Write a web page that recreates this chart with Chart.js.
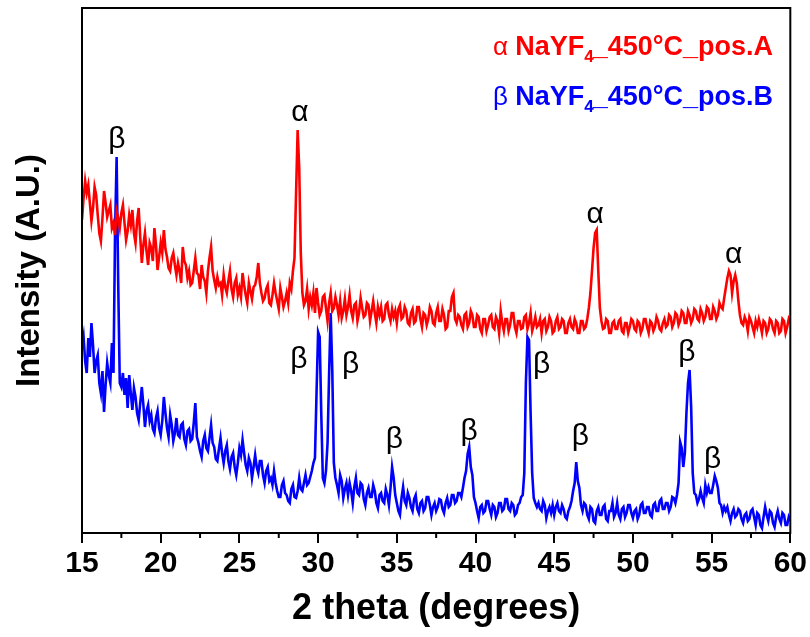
<!DOCTYPE html>
<html><head><meta charset="utf-8">
<script src="https://cdn.jsdelivr.net/npm/chart.js@4.4.1/dist/chart.umd.min.js"></script>
<style>html,body{margin:0;padding:0;background:#fff}#wrap{width:810px;height:637px;position:relative}</style>
</head><body><div id="wrap"><canvas id="c"></canvas></div>
<script>
// 2-theta scan grid (degrees)
const scanStart = 15.0;
const scanStep = 0.1;

// Intensity (a.u.) of pos.A (alpha phase), one row per degree (x.0 .. x.9), 15.0 .. 60.0
const posA = [
 313,335,352,340,348,330,312,325,346,338,
 318,300,292,315,342,330,316,322,328,305,
 310,298,322,315,305,320,328,310,293,302,
 318,308,323,300,290,312,325,296,270,288,
 300,282,268,290,285,272,305,288,263,276,
 290,280,303,284,276,265,262,275,280,268,
 258,270,262,250,286,272,268,255,262,248,
 250,262,275,260,258,244,268,256,252,240,
 262,275,286,262,253,245,256,248,250,238,
 258,246,240,252,262,244,236,250,255,238,
 245,236,260,248,238,230,250,242,234,246,
 248,256,270,250,240,232,235,244,248,230,
 228,238,250,240,232,224,245,236,226,232,
 240,230,250,244,262,275,340,403,365,280,
 240,228,232,244,224,236,228,240,220,245,
 230,218,222,236,238,225,212,230,240,222,
 225,236,228,218,232,215,222,234,218,226,
 238,222,215,228,230,212,220,235,225,216,
 218,230,228,212,222,232,220,210,226,218,
 226,212,214,228,230,218,212,224,216,222,
 210,224,228,214,216,226,222,210,208,220,
 224,210,212,226,226,214,206,220,218,208,
 214,226,222,210,208,220,226,212,212,224,
 218,204,206,222,222,236,240,214,210,218,
 216,208,204,218,220,206,210,222,218,206,
 206,218,216,204,200,214,214,202,208,216,
 218,206,204,216,212,200,222,210,202,214,
 214,202,208,220,220,206,200,212,212,204,
 205,216,218,204,210,220,202,208,216,206,
 208,214,200,212,214,202,206,216,212,200,
 202,212,216,204,206,214,212,200,200,210,
 214,206,204,214,210,200,200,212,212,204,
 206,214,225,240,262,285,300,303,262,225,
 212,204,205,214,212,200,200,210,212,204,
 204,212,214,202,200,210,210,200,206,214,
 212,204,202,212,210,200,204,214,214,206,
 200,212,210,202,206,216,212,204,202,210,
 214,206,208,218,216,206,210,220,218,208,
 212,222,220,210,210,222,218,210,214,224,
 222,214,212,224,220,212,216,226,224,214,
 214,226,222,214,218,230,226,224,235,245,
 255,262,258,240,252,258,250,232,218,210,
 208,216,212,202,216,212,206,200,212,206,
 214,208,200,212,210,200,204,214,212,204,
 200,212,210,200,202,214,212,200,206,214,
 210
];

// Intensity (a.u.) of pos.B (beta phase), one row per degree (x.0 .. x.9), 15.0 .. 60.0
const posB = [
 185,196,172,160,195,176,210,188,160,172,
 178,150,140,162,121,148,170,158,150,190,
 160,300,376,250,150,146,160,138,155,125,
 158,140,123,145,136,120,113,130,146,128,
 106,122,128,112,118,104,100,115,122,105,
  98,112,136,120,105, 96,118,108, 92,100,
 115, 98, 96,108,110, 94, 88,102,104, 92,
  94,110,130, 96, 90, 82, 76, 92, 98, 85,
  82, 95,108, 90, 86, 74, 72, 84, 95, 80,
  70, 82, 88, 72, 64, 76, 80, 66, 58, 70,
  85, 78, 93, 80, 68, 62, 75, 70, 55, 66,
  78, 66, 60, 72, 72, 58, 50, 62, 66, 52,
  55, 48, 62, 50, 42, 36, 36, 48, 52, 40,
  38, 32, 30, 44, 48, 36, 35, 42, 55, 44,
  42, 50, 58, 48, 50, 56, 62, 70, 75,140,
 201,196,120, 55, 50, 62, 90,160,220,163,
  70, 55, 48, 40, 58, 52, 35, 44, 50, 38,
  50, 42, 30, 46, 55, 40, 38, 50, 48, 34,
  28, 40, 45, 36, 36, 48, 42, 30, 25, 38,
  40, 32, 30, 44, 38, 28, 45, 66, 55, 38,
  30, 22, 18, 35, 46, 32, 28, 40, 35, 26,
  22, 34, 38, 24, 20, 30, 32, 22, 25, 36,
  36, 28, 18, 26, 30, 22, 26, 34, 33, 24,
  20, 30, 35, 26, 28, 38, 38, 30, 32, 40,
  40, 36, 45, 55, 62, 79, 86, 66, 58, 36,
  30, 22, 15, 26, 28, 20, 22, 32, 32, 24,
  18, 28, 26, 16, 20, 30, 30, 22, 24, 34,
  34, 24, 22, 30, 28, 18, 20, 28, 30, 36,
  38, 60,150,196,193,120, 60, 35, 30, 26,
  30, 24, 22, 32, 28, 15, 22, 26, 20, 28,
  18, 26, 30, 22, 20, 28, 24, 16, 14, 22,
  26, 32, 42, 50, 71, 52, 45, 28, 22, 30,
  28, 18, 14, 26, 24, 12, 10, 22, 26, 18,
  18, 26, 28, 14, 12, 22, 22, 30, 16, 20,
  30, 18, 14, 24, 26, 16, 20, 28, 28, 20,
  15, 22, 24, 14, 18, 28, 30, 20, 20, 26,
  26, 18, 16, 28, 30, 22, 22, 32, 34, 24,
  24, 30, 30, 22, 26, 36, 35, 30, 38, 50,
  91, 85, 66, 80,120,150,163,126, 60, 40,
  38, 30, 34, 42, 35, 30, 48, 40, 46, 40,
  40, 48, 57, 52, 45, 30, 28, 20, 26, 22,
  26, 18, 12, 20, 24, 16, 18, 24, 22, 14,
  10, 18, 20, 12, 14, 22, 24, 16,  8, 20,
  18,  8,  5, 16, 26, 18, 12, 22, 20, 10,
   6, 16, 22, 14, 10, 20, 18,  8,  8, 16,
  12
];

const xTickValues = [15,20,25,30,35,40,45,50,55,60];
const xMinorTicks = [17.5,22.5,27.5,32.5,37.5,42.5,47.5,52.5,57.5];

const seriesA = {symbol:'α', pre:'NaYF', sub:'4', post:'_450°C_pos.A'};
const seriesB = {symbol:'β', pre:'NaYF', sub:'4', post:'_450°C_pos.B'};

// Phase markers: text, 2-theta, intensity
const markText = ['α','α','α','β','β','β','β','β','β','β','β','β'];
const markX    = [28.84, 47.61, 56.40, 17.21, 28.78, 32.06, 34.85, 39.59, 44.20, 46.67, 53.43, 55.07];
const markY    = [420, 318, 278, 393, 173, 168, 93, 101, 168, 96, 180, 73];

const xTitle = '2 theta (degrees)';
const yTitle = 'Intensity (A.U.)';

const FONT = '"Liberation Sans",Arial,sans-serif';

function toPoints(arr){ return arr.map((v,i)=>({x: scanStart + i*scanStep, y: v})); }

const extras = {
  id:'extras',
  afterDraw(chart){
    const ctx = chart.ctx, a = chart.chartArea, xs = chart.scales.x, ys = chart.scales.y;
    ctx.save();
    ctx.strokeStyle = '#000'; ctx.lineWidth = 2;
    ctx.strokeRect(a.left, a.top, a.right - a.left, a.bottom - a.top);
    ctx.beginPath();
    xMinorTicks.forEach(v=>{ const p = xs.getPixelForValue(v); ctx.moveTo(p, a.bottom); ctx.lineTo(p, a.bottom+5); });
    ctx.stroke();
    ctx.fillStyle = '#000';
    ctx.font = '30px ' + FONT;
    ctx.textAlign = 'center'; ctx.textBaseline = 'middle';
    markText.forEach((t,i)=>{ ctx.fillText(t, xs.getPixelForValue(markX[i]), ys.getPixelForValue(markY[i])); });
    const drawLeg = (s, color, y) => {
      let x = a.left + 411;
      ctx.fillStyle = color; ctx.textAlign = 'left'; ctx.textBaseline = 'alphabetic';
      ctx.font = '26px ' + FONT;
      ctx.fillText(s.symbol, x, y); x += ctx.measureText(s.symbol + ' ').width;
      ctx.font = 'bold 27px ' + FONT;
      ctx.fillText(s.pre, x, y); x += ctx.measureText(s.pre).width;
      ctx.font = 'bold 17px ' + FONT;
      ctx.fillText(s.sub, x, y + 7); x += ctx.measureText(s.sub).width - 1;
      ctx.font = 'bold 27px ' + FONT;
      ctx.fillText(s.post, x, y);
    };
    drawLeg(seriesA, '#ff0000', a.top + 47);
    drawLeg(seriesB, '#0000ff', a.top + 97);
    ctx.restore();
  }
};

new Chart(document.getElementById('c'), {
  type:'line',
  data:{ datasets:[
    {label:'α NaYF4_450°C_pos.A', data: toPoints(posA), borderColor:'#ff0000', borderWidth:2.6, pointRadius:0, tension:0, fill:false},
    {label:'β NaYF4_450°C_pos.B', data: toPoints(posB), borderColor:'#0000ff', borderWidth:2.6, pointRadius:0, tension:0, fill:false}
  ]},
  options:{
    responsive:true, maintainAspectRatio:false, animation:false, devicePixelRatio:1,
    layout:{ padding:{ top:8, right:16, left:0, bottom:0 } },
    plugins:{ legend:{display:false}, tooltip:{enabled:false} },
    scales:{
      x:{ type:'linear', min:15, max:60,
        afterBuildTicks(s){ s.ticks = xTickValues.map(v=>({value:v})); },
        afterFit(s){ s.height = 104; },
        border:{display:false},
        grid:{ display:true, drawOnChartArea:false, drawTicks:true, tickLength:10, color:'#000', lineWidth:2 },
        ticks:{ color:'#000', padding:3, maxRotation:0, font:{ family:FONT, size:30, weight:'bold' } },
        title:{ display:true, text:xTitle, color:'#000', padding:{top:0,bottom:6}, font:{ family:FONT, size:36, weight:'bold' } }
      },
      y:{ type:'linear', min:0, max:525,
        afterFit(s){ s.width = 82; },
        border:{display:false},
        grid:{ display:false },
        ticks:{ display:false },
        title:{ display:true, text:yTitle, color:'#000', padding:{top:10,bottom:0}, font:{ family:FONT, size:33, weight:'bold' } }
      }
    }
  },
  plugins:[extras]
});
</script></body></html>
